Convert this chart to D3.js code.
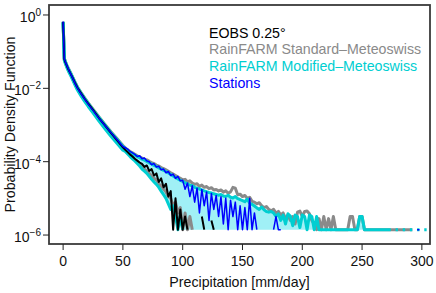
<!DOCTYPE html>
<html>
<head>
<meta charset="utf-8">
<script src="https://cdn.jsdelivr.net/npm/d3@7"></script>
<style>
body{margin:0;background:#fff;}
svg{display:block;font-family:"Liberation Sans",Arial,sans-serif;}
</style>
</head>
<body>
<svg id="chart" width="436" height="293"></svg>
<script>
// precipitation bins [mm/day]
var headPrecip = [0,1,2,3,4,5,6,8,10,12,15,18,21,25,30,35,40,45,50];
var tailPrecip = [52,54,56,58,60,62,64,66,68,70,
    72,74,76,78,80,82,84,86,88,90,
    92,94,96,98,100,102,104,106,108,110,
    112,114,116,118,120,122,124,126,128,130,
    132,134,136,138,140,142,144,146,148,150,
    152,154,156,158,160,162,164,166,168,170,
    172,174,176,178,180,182,184,186,188,190,
    192,194,196,198,200,202,204,206,208,210,
    212,214,216,218,220,222,224,226,228,230,
    232,234,236,238,240,242,244,246,248,250,
    252,254,256,258,260,262,264,266,268,270,
    272,274,276,278,280,282,284,286,288,290,
    292,294,296,298,300,302,304,306];

// RainFARM Standard-Meteoswiss ensemble range (PDF)
var stdMaxHead = [0.66,0.066,0.053,0.044,0.037,0.032,0.0275,0.0202,0.0147,0.0109,0.0077,0.0055,0.0040,0.0027,0.00165,0.00104,6.6e-4,4.3e-4,2.75e-4];
var stdMaxTail = [2.4e-4,2.1e-4,1.9e-4,1.74e-4,1.6e-4,1.45e-4,1.35e-4,1.26e-4,1.17e-4,1.12e-4,
    1.02e-4,9.5e-5,8.9e-5,8.1e-5,7.6e-5,6.9e-5,6.5e-5,6.0e-5,5.5e-5,5.0e-5,
    4.6e-5,4.2e-5,3.8e-5,3.5e-5,3.2e-5,3.3e-5,2.8e-5,3.0e-5,2.6e-5,2.4e-5,
    2.5e-5,2.1e-5,2.3e-5,2.0e-5,2.1e-5,1.85e-5,1.95e-5,1.7e-5,1.75e-5,1.6e-5,
    1.7e-5,1.48e-5,1.6e-5,1.38e-5,1.5e-5,2.0e-5,1.9e-5,1.26e-5,1.3e-5,1.12e-5,
    1.2e-5,1.0e-5,1.07e-5,8.3e-6,7.9e-6,7.1e-6,7.6e-6,6.3e-6,5.6e-6,6.0e-6,
    5.0e-6,4.6e-6,5.0e-6,4.0e-6,4.4e-6,3.5e-6,4.0e-6,2.8e-6,3.5e-6,2.5e-6,
    3.2e-6,2.0e-6,4.2e-6,4.5e-6,3.2e-6,4.4e-6,4.5e-6,3.8e-6,2.5e-6,2.0e-6,
    1.4e-6,2.8e-6,1.4e-6,3.2e-6,1.4e-6,2.8e-6,1.4e-6,3.2e-6,1.4e-6,1.4e-6,
    1.4e-6,1.4e-6,1.4e-6,1.4e-6,3.2e-6,3.2e-6,1.4e-6,1.4e-6,3.2e-6,3.2e-6,
    1.4e-6,1.4e-6,1.4e-6,1.4e-6,1.4e-6,1.4e-6,1.4e-6,1.4e-6,1.4e-6,1.4e-6,
    1.4e-6,1.4e-6,1.4e-6,1.4e-6,1.4e-6,1.4e-6,1.4e-6,1.4e-6,1.4e-6,1.4e-6,
    1.4e-6,null,null,null,null,null,null,null];
var stdMinHead = [0.63,0.060,0.048,0.040,0.033,0.028,0.0245,0.0178,0.0129,0.0095,0.0066,0.0047,0.0034,0.0023,0.00138,8.6e-4,5.4e-4,3.5e-4,2.25e-4];
var stdMinTail = [2.0e-4,1.74e-4,1.5e-4,1.32e-4,1.12e-4,1.0e-4,8.5e-5,7.6e-5,6.3e-5,5.5e-5,
    4.8e-5,4.2e-5,3.5e-5,3.2e-5,2.5e-5,2.2e-5,1.8e-5,1.5e-5,1.12e-5,1.0e-5,
    6.3e-6,7.9e-6,4.0e-6,5.6e-6,1.4e-6,4.0e-6,1.4e-6,3.2e-6,1.4e-6];

// RainFARM Modified-Meteoswiss ensemble range (PDF)
var modMaxHead = [0.65,0.065,0.052,0.043,0.036,0.031,0.027,0.0198,0.0143,0.0106,0.0074,0.0053,0.0039,0.0026,0.0016,0.00100,6.3e-4,4.1e-4,2.6e-4];
var modMaxTail = [2.3e-4,2.0e-4,1.82e-4,1.66e-4,1.5e-4,1.38e-4,1.29e-4,1.17e-4,1.1e-4,1.02e-4,
    9.3e-5,8.7e-5,7.9e-5,7.4e-5,6.8e-5,6.3e-5,5.8e-5,5.4e-5,4.9e-5,4.5e-5,
    4.1e-5,3.7e-5,3.4e-5,3.1e-5,2.9e-5,2.65e-5,2.5e-5,2.3e-5,2.2e-5,2.0e-5,
    1.9e-5,1.8e-5,1.7e-5,1.6e-5,1.52e-5,1.45e-5,1.4e-5,1.33e-5,1.28e-5,1.22e-5,
    1.28e-5,1.16e-5,1.12e-5,1.22e-5,1.07e-5,1.02e-5,1.12e-5,9.8e-6,9.3e-6,8.7e-6,
    8.1e-6,9.6e-6,7.4e-6,6.9e-6,6.2e-6,5.5e-6,5.0e-6,5.8e-6,4.9e-6,4.4e-6,
    4.2e-6,4.4e-6,4.0e-6,3.2e-6,3.8e-6,2.5e-6,3.5e-6,2.0e-6,3.8e-6,3.3e-6,
    1.8e-6,3.5e-6,3.2e-6,1.6e-6,3.5e-6,3.2e-6,1.4e-6,3.5e-6,3.2e-6,1.4e-6,
    3.2e-6,1.4e-6,1.4e-6,1.4e-6,1.4e-6,1.4e-6,1.4e-6,1.4e-6,1.4e-6,1.4e-6,
    1.4e-6,1.4e-6,1.4e-6,1.4e-6,1.4e-6,1.4e-6,1.4e-6,1.4e-6,3.2e-6,3.2e-6,
    1.4e-6,1.4e-6,1.4e-6,1.4e-6,1.4e-6,1.4e-6,1.4e-6,1.4e-6,1.4e-6,1.4e-6,
    1.4e-6,1.4e-6,null,1.4e-6,1.4e-6,null,1.4e-6,1.4e-6,null,1.4e-6,
    1.4e-6,null,1.4e-6,1.4e-6,null,1.4e-6,1.4e-6,null];
var modMinHead = [0.62,0.058,0.046,0.038,0.032,0.027,0.0235,0.0170,0.0123,0.0090,0.0062,0.0044,0.0032,0.00215,0.00128,7.9e-4,4.9e-4,3.2e-4,2.05e-4];
var modMinTail = [1.9e-4,1.62e-4,1.38e-4,1.2e-4,1.05e-4,8.9e-5,7.6e-5,6.3e-5,5.5e-5,4.8e-5,
    4.0e-5,3.3e-5,2.8e-5,2.4e-5,2.0e-5,1.58e-5,1.26e-5,1.0e-5,7.1e-6,5.0e-6,
    6.3e-6,3.2e-6,1.4e-6,3.2e-6,1.4e-6];

// EOBS 0.25°
var eobsHead = [0.64,0.062,0.050,0.042,0.035,0.030,0.026,0.0192,0.0140,0.0104,0.0073,0.0052,0.0038,0.0026,0.00155,9.8e-4,6.1e-4,3.9e-4,2.45e-4];
var eobsTailPrecip = [52,54,56,58,60,62,64,66,68,70,72,74,76,78,80,82,84,86,88,90,92,94,96,98,100,102,104,106,116,118,120,124,126];
var eobsTail = [2.1e-4,1.82e-4,1.58e-4,1.38e-4,1.2e-4,1.07e-4,9.5e-5,8.7e-5,7.2e-5,7.9e-5,
    5.6e-5,6.3e-5,4.2e-5,4.8e-5,2.8e-5,3.5e-5,2.0e-5,2.5e-5,1.12e-5,1.58e-5,
    1.4e-6,1.0e-5,1.4e-6,5.0e-6,1.4e-6,3.2e-6,1.4e-6,
    null,3.2e-6,1.4e-6,null,2.5e-6,1.4e-6];

// Stations
var stationsHead = [0.66,0.064,0.051,0.043,0.036,0.030,0.026,0.019,0.0137,0.0101,0.0071,0.0051,0.0037,0.0025,0.00152,9.7e-4,6.2e-4,4.0e-4,2.6e-4];
var stationsTailPrecip = [52,54,56,58,60,62,64,66,68,70,72,74,76,78,80,82,84,86,88,90,
    92,94,96,98,100,102,104,106,108,110,112,114,116,118,120,122,124,126,128,130,
    132,134,136,138,140,142,144,146,148,150,152,154,156,158,160,162,164,176,178,180,182,184,296,298];
var stationsTail = [2.4e-4,2.2e-4,1.9e-4,1.74e-4,1.58e-4,1.38e-4,1.45e-4,1.2e-4,1.26e-4,1.05e-4,
    1.0e-4,8.3e-5,8.9e-5,7.1e-5,7.6e-5,6.0e-5,6.3e-5,5.0e-5,5.4e-5,4.2e-5,
    4.6e-5,3.5e-5,4.0e-5,3.0e-5,3.1e-5,1.78e-5,2.6e-5,1.12e-5,2.2e-5,7.9e-6,
    1.9e-5,4.0e-6,1.75e-5,6.3e-6,1.5e-5,2.5e-6,1.35e-5,5.0e-6,1.2e-5,3.2e-6,
    1.1e-5,2.0e-6,1.0e-5,1.4e-6,8.9e-6,3.2e-6,7.9e-6,1.4e-6,6.3e-6,1.4e-6,
    5.6e-6,1.4e-6,1.0e-5,1.4e-6,4.0e-6,1.4e-6,null,1.4e-6,3.2e-6,1.4e-6,1.4e-6,null,1.4e-6,1.4e-6];

var xTicks = [0,50,100,150,200,250,300];
var yTickExp = [0,-2,-4,-6];
var legendLabels = ["EOBS 0.25\u00b0","RainFARM Standard\u2013Meteoswiss","RainFARM Modified\u2013Meteoswiss","Stations"];
var legendColors = ["#000000","#8a8a8a","#00CED1","#0000FF"];

var pdfFloor = 1.4e-6;   // lowest non-zero density (one event)

var svg = d3.select("#chart");
var box = {left:49, top:5, right:430, bottom:244};

var x = d3.scaleLinear().domain([-11.8, 306.8]).range([box.left, box.right]);
var y = d3.scaleLog().domain([5.7e-7, 1.87]).range([box.bottom, box.top]);

svg.append("clipPath").attr("id","plotclip")
    .append("rect")
    .attr("x",box.left).attr("y",box.top)
    .attr("width",box.right-box.left).attr("height",box.bottom-box.top);

var plot = svg.append("g").attr("clip-path","url(#plotclip)");

var envPrecip = headPrecip.concat(tailPrecip);
function series(px, vals){
    return px.map(function(p,i){ return [p, vals[i] === undefined ? null : vals[i]]; });
}
var line = d3.line()
    .defined(function(d){ return d[1] != null; })
    .x(function(d){ return x(d[0]); })
    .y(function(d){ return y(d[1]); });

var stdMax = series(envPrecip, stdMaxHead.concat(stdMaxTail));
var stdMin = series(envPrecip, stdMinHead.concat(stdMinTail));
var modMax = series(envPrecip, modMaxHead.concat(modMaxTail));
var modMin = series(envPrecip, modMinHead.concat(modMinTail));
var eobs = series(headPrecip.concat(eobsTailPrecip), eobsHead.concat(eobsTail));
var stations = series(headPrecip.concat(stationsTailPrecip), stationsHead.concat(stationsTail));

// modified ensemble envelope fill
var band = modMax.map(function(d,i){ return [d[0], modMin[i][1], d[1]]; });
plot.append("path")
    .datum(band)
    .attr("fill","#a0f0f6")
    .attr("d", d3.area()
        .defined(function(d){ return d[2] != null; })
        .x(function(d){ return x(d[0]); })
        .y0(function(d){ return y(d[1] != null ? d[1] : pdfFloor); })
        .y1(function(d){ return y(d[2]); }));

[stdMax, stdMin].forEach(function(s){
    plot.append("path").datum(s)
        .attr("fill","none").attr("stroke","#8a8a8a")
        .attr("stroke-width",3).attr("stroke-linejoin","round")
        .attr("d",line);
});
[modMax, modMin].forEach(function(s){
    plot.append("path").datum(s)
        .attr("fill","none").attr("stroke","#00CED1")
        .attr("stroke-width",3).attr("stroke-linejoin","round")
        .attr("d",line);
});
plot.append("path").datum(eobs)
    .attr("fill","none").attr("stroke","#000")
    .attr("stroke-width",2).attr("stroke-linejoin","round")
    .attr("d",line);
plot.append("path").datum(stations)
    .attr("fill","none").attr("stroke","#0000FF")
    .attr("stroke-width",1.5).attr("stroke-linejoin","round")
    .attr("d",line);

// plot frame
svg.append("rect")
    .attr("x",box.left).attr("y",box.top)
    .attr("width",box.right-box.left).attr("height",box.bottom-box.top)
    .attr("fill","none").attr("stroke","#3a3a3a").attr("stroke-width",1.8);

// x axis
var xAxis = svg.append("g").attr("font-size",14);
xAxis.selectAll("line").data(xTicks).enter().append("line")
    .attr("x1",function(d){ return x(d); }).attr("x2",function(d){ return x(d); })
    .attr("y1",box.bottom).attr("y2",box.bottom+6)
    .attr("stroke","#222").attr("stroke-width",1);
xAxis.selectAll("text").data(xTicks).enter().append("text")
    .attr("x",function(d){ return x(d); }).attr("y",box.bottom+22)
    .attr("text-anchor","middle").attr("fill","#111")
    .text(function(d){ return d; });

// y axis
var yAxis = svg.append("g").attr("font-size",14);
yAxis.selectAll("line").data(yTickExp).enter().append("line")
    .attr("x1",box.left-6).attr("x2",box.left)
    .attr("y1",function(d){ return y(Math.pow(10,d)); })
    .attr("y2",function(d){ return y(Math.pow(10,d)); })
    .attr("stroke","#222").attr("stroke-width",1);
var yLab = yAxis.selectAll("text").data(yTickExp).enter().append("text")
    .attr("x",box.left-8)
    .attr("y",function(d){ return y(Math.pow(10,d))+7; })
    .attr("text-anchor","end").attr("fill","#111");
yLab.append("tspan").text("10");
yLab.append("tspan").attr("dy",-6).attr("font-size",10)
    .text(function(d){ return d === 0 ? "0" : "\u2212"+(-d); });

// axis titles
svg.append("text")
    .attr("x",(box.left+box.right)/2).attr("y",287)
    .attr("text-anchor","middle").attr("font-size",14.2).attr("fill","#111")
    .text("Precipitation [mm/day]");
svg.append("text")
    .attr("transform","translate(14.5,"+((box.top+box.bottom)/2)+") rotate(-90)")
    .attr("text-anchor","middle").attr("font-size",14.2).attr("fill","#111")
    .text("Probability Density Function");

// legend
svg.selectAll("text.legend").data(legendLabels).enter().append("text")
    .attr("class","legend")
    .attr("x",209).attr("y",function(d,i){ return 37.5+i*16.7; })
    .attr("font-size",14.2)
    .attr("fill",function(d,i){ return legendColors[i]; })
    .text(function(d){ return d; });
</script>
</body>
</html>
